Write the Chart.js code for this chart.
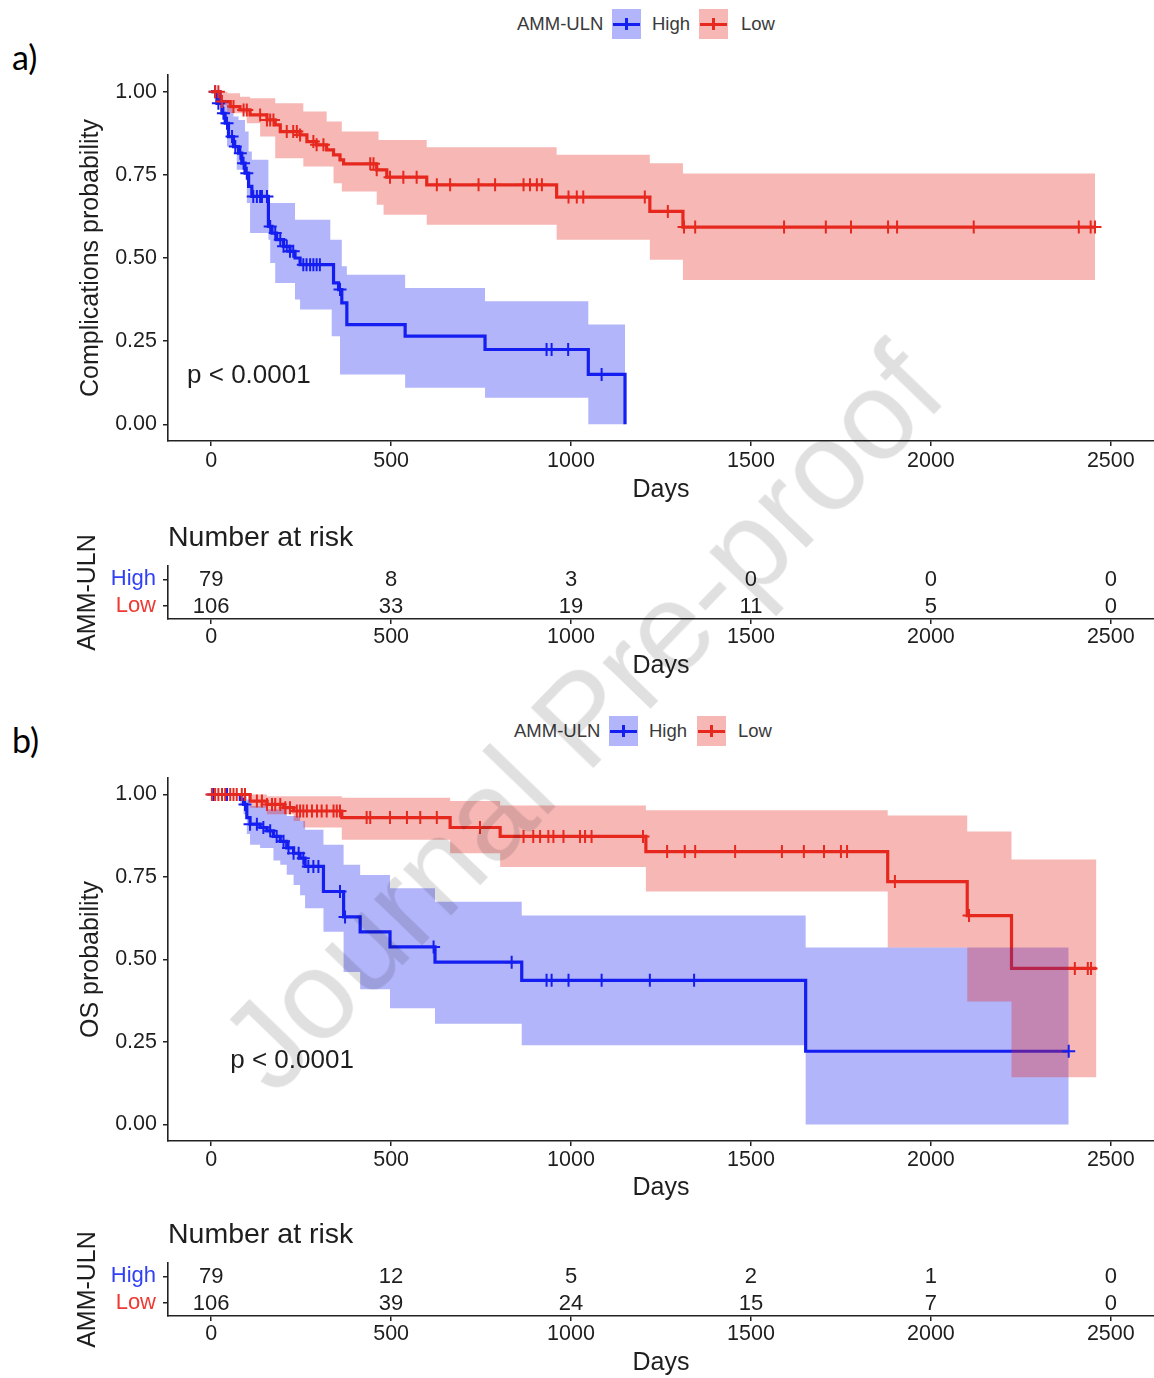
<!DOCTYPE html>
<html>
<head>
<meta charset="utf-8">
<script src="https://cdn.jsdelivr.net/npm/chart.js@4.4.1/dist/chart.umd.min.js"></script>
<style>
html,body{margin:0;padding:0;background:#fff;}
body{width:1154px;height:1378px;position:relative;overflow:hidden;}
canvas{position:absolute;left:0;}
.lbl{position:absolute;left:12px;font-family:Lato,"Open Sans",sans-serif;font-size:34px;line-height:40px;color:#000;}
.leg{position:absolute;left:0;width:1154px;height:30px;font-family:"Liberation Sans",Arial,sans-serif;font-size:18.5px;color:#3a3a3a;}
.leg span{position:absolute;top:0;line-height:30px;white-space:nowrap;}
.key{position:absolute;top:0;width:29px;height:30px;}
.key i{position:absolute;display:block;}
#wm{position:absolute;left:582px;top:718px;transform:translate(-50%,-50%) rotate(-46deg);font-family:"Liberation Sans",Arial,sans-serif;font-size:126px;line-height:1;color:rgba(0,0,0,0.12);white-space:nowrap;pointer-events:none;}
</style>
</head>
<body>
<div class="lbl" style="top:37px">a)</div>
<div class="lbl" style="top:720px">b)</div>

<div class="leg" style="top:9px">
  <span style="left:517px">AMM-ULN</span>
  <div class="key" style="left:612px;background:rgba(20,30,240,0.33)"><i style="left:1px;right:1px;top:13.5px;height:3px;background:#141ef0"></i><i style="left:13px;width:3px;top:9px;height:12px;background:#141ef0"></i></div>
  <span style="left:652px">High</span>
  <div class="key" style="left:699px;background:rgba(230,40,30,0.33)"><i style="left:1px;right:1px;top:13.5px;height:3px;background:#e6281e"></i><i style="left:13px;width:3px;top:9px;height:12px;background:#e6281e"></i></div>
  <span style="left:741px">Low</span>
</div>
<div class="leg" style="top:716px">
  <span style="left:514px">AMM-ULN</span>
  <div class="key" style="left:609px;background:rgba(20,30,240,0.33)"><i style="left:1px;right:1px;top:13.5px;height:3px;background:#141ef0"></i><i style="left:13px;width:3px;top:9px;height:12px;background:#141ef0"></i></div>
  <span style="left:649px">High</span>
  <div class="key" style="left:697px;background:rgba(230,40,30,0.33)"><i style="left:1px;right:1px;top:13.5px;height:3px;background:#e6281e"></i><i style="left:13px;width:3px;top:9px;height:12px;background:#e6281e"></i></div>
  <span style="left:738px">Low</span>
</div>

<canvas id="kmA" width="1154" height="455" style="top:60px"></canvas>
<canvas id="riskA" width="1154" height="175" style="top:515px"></canvas>
<canvas id="kmB" width="1154" height="455" style="top:760px"></canvas>
<canvas id="riskB" width="1154" height="166" style="top:1212px"></canvas>

<div id="wm">Journal Pre-proof</div>

<script>
// ---------------- DATA ----------------
const groups = ['High', 'Low'];
const xTicks = [0, 500, 1000, 1500, 2000, 2500];
const yTicks = [0, 0.25, 0.5, 0.75, 1];
const riskTimes = [0, 500, 1000, 1500, 2000, 2500];

// Panel a: complications
const aHighT = [0,16,30,39,48,62,76,85,94,104,113,159,169,182,201,219,233,247,340,354,363,377,539,761,1048,1150];
const aHighS = [1,0.965,0.935,0.905,0.865,0.835,0.815,0.785,0.755,0.715,0.685,0.595,0.575,0.555,0.535,0.52,0.50,0.48,0.425,0.405,0.365,0.30,0.265,0.225,0.15,0.0];
const aHighUpT = [0,16,30,48,62,76,94,104,113,159,233,331,363,377,539,761,1048,1150];
const aHighUpS = [1,0.995,0.975,0.95,0.925,0.915,0.88,0.82,0.795,0.665,0.615,0.555,0.475,0.45,0.41,0.37,0.30,0.30];
const aHighLoT = [0,16,25,44,71,99,108,159,164,178,233,247,335,358,539,761,1048,1150];
const aHighLoS = [1,0.96,0.935,0.835,0.765,0.665,0.575,0.555,0.485,0.425,0.375,0.345,0.265,0.15,0.11,0.08,0.0,0.0];
const aHighCens = [11,20,34,44,58,67,81,90,99,117,127,136,141,155,164,178,192,201,210,219,228,256,265,275,284,293,302,358,932,946,992,1085];

const aLowT = [0,25,53,80,108,155,178,192,247,266,293,321,340,358,368,460,488,599,960,1219,1311,2456];
const aLowS = [1,0.97,0.955,0.945,0.93,0.915,0.90,0.88,0.87,0.85,0.84,0.825,0.81,0.795,0.783,0.765,0.743,0.72,0.683,0.64,0.593,0.593];
const aLowUpT = [0,45,80,108,178,256,321,363,465,599,960,1219,1311,2456];
const aLowUpS = [1,0.995,0.985,0.98,0.965,0.94,0.91,0.88,0.855,0.833,0.81,0.785,0.754,0.754];
const aLowLoT = [0,16,44,99,136,178,256,340,363,460,479,599,960,1219,1311,2456];
const aLowLoS = [1,0.96,0.935,0.905,0.865,0.80,0.775,0.725,0.70,0.66,0.63,0.60,0.555,0.495,0.434,0.434];
const aLowCens = [11,20,30,62,90,99,136,155,164,173,210,228,238,247,284,293,312,442,451,460,497,534,571,627,664,743,789,868,886,905,919,993,1016,1034,1205,1269,1314,1345,1592,1708,1778,1881,1906,2119,2411,2444,2456];

const aRiskHigh = [79, 8, 3, 0, 0, 0];
const aRiskLow = [106, 33, 19, 11, 5, 0];

// Panel b: overall survival
const bHighT = [0,81,90,99,108,136,155,173,192,210,229,247,261,312,368,414,497,622,863,1652,2383];
const bHighS = [1,0.985,0.97,0.93,0.91,0.90,0.89,0.873,0.858,0.838,0.822,0.807,0.782,0.706,0.629,0.584,0.538,0.492,0.437,0.222,0.222];
const bHighUpT = [0,90,99,108,155,210,247,261,312,368,414,497,622,863,1652,2383];
const bHighUpS = [1,0.995,0.985,0.965,0.955,0.935,0.92,0.893,0.848,0.787,0.756,0.716,0.675,0.633,0.536,0.536];
const bHighLoT = [0,81,90,99,108,136,173,192,210,229,247,261,312,368,414,497,622,863,1652,2383];
const bHighLoS = [1,0.97,0.94,0.88,0.848,0.838,0.80,0.787,0.757,0.726,0.695,0.655,0.584,0.462,0.41,0.352,0.305,0.24,0.0,0.0];
const bHighCens = [6,30,44,94,108,127,145,164,182,201,215,229,243,256,270,284,298,358,372,618,835,932,946,993,1085,1219,1342,2383];

const bLowT = [0,108,155,201,229,363,664,803,1208,1880,2101,2224,2460];
const bLowS = [1,0.98,0.97,0.96,0.95,0.93,0.90,0.873,0.827,0.736,0.633,0.473,0.473];
const bLowUpT = [0,155,363,664,803,1208,1880,2101,2224,2460];
const bLowUpS = [1,0.995,0.99,0.98,0.967,0.952,0.936,0.888,0.803,0.803];
const bLowLoT = [0,108,155,229,256,363,664,803,1208,1880,2101,2224,2460];
const bLowLoS = [1,0.96,0.94,0.92,0.90,0.863,0.822,0.78,0.706,0.536,0.373,0.143,0.143];
const bLowCens = [2,11,20,30,39,53,62,71,85,94,127,141,155,169,178,192,206,219,238,247,256,266,280,294,307,321,340,349,358,432,442,497,544,581,627,747,868,895,914,937,951,979,1025,1039,1057,1200,1267,1316,1345,1456,1586,1647,1703,1750,1767,1900,2106,2400,2436,2445];

const bRiskHigh = [79, 12, 5, 2, 1, 0];
const bRiskLow = [106, 39, 24, 15, 7, 0];

const pText = 'p < 0.0001';

// ---------------- STYLE ----------------
const FONT = '"Liberation Sans", Arial, Helvetica, sans-serif';
const BLUE = '#141ef0', RED = '#e6281e';
const BLUE_BAND = 'rgba(20,30,240,0.33)', RED_BAND = 'rgba(230,40,30,0.33)';
const BLUE_TXT = '#3040f6', RED_TXT = '#ee3a32';
const TXT = '#1e1e1e';
const AX = '#222';
const X_MIN = -120, X_MAX = 2620;
Chart.defaults.font.family = FONT;

function pts(T, S) { return T.map((t, i) => ({x: t, y: S[i]})); }
function stepValue(T, S, t) { let v = S[0]; for (let i = 0; i < T.length; i++) { if (T[i] <= t) v = S[i]; else break; } return v; }
function censPts(C, T, S) { return C.map(t => ({x: t, y: stepValue(T, S, t)})); }
function zeroPad(s) { s.paddingTop = 0; s.paddingBottom = 0; s.paddingLeft = 0; s.paddingRight = 0; }

function xAxis(height, tickPad, titlePad) {
  return {
    type: 'linear', min: X_MIN, max: X_MAX,
    afterBuildTicks: s => { s.ticks = xTicks.map(v => ({value: v})); },
    afterFit: s => { s.height = height; zeroPad(s); },
    ticks: {font: {size: 21.5}, color: TXT, padding: tickPad, maxRotation: 0, autoSkip: false, callback: v => String(v)},
    grid: {display: true, drawOnChartArea: false, drawTicks: true, tickLength: 5, color: AX, lineWidth: 1.5},
    border: {display: true, color: AX, width: 1.6},
    title: {display: true, text: 'Days', font: {size: 25}, color: TXT, padding: {top: 0, bottom: titlePad}}
  };
}

const annotPlugin = {
  id: 'annot',
  afterDatasetsDraw(chart, args, opts) {
    if (!opts || !opts.text) return;
    const {ctx, scales: {x, y}} = chart;
    ctx.save();
    ctx.font = '26px ' + FONT;
    ctx.fillStyle = TXT;
    ctx.textAlign = 'left';
    ctx.textBaseline = 'middle';
    ctx.fillText(opts.text, x.getPixelForValue(opts.x), y.getPixelForValue(opts.y));
    ctx.restore();
  }
};

function kmChart(id, o) {
  const band = (T, S, color, fill, order) => ({data: pts(T, S), stepped: 'before', borderWidth: 0, pointRadius: 0, backgroundColor: color, fill: fill, order: order});
  return new Chart(document.getElementById(id), {
    type: 'line',
    data: {datasets: [
      {label: 'High', data: pts(o.hT, o.hS), stepped: 'before', borderColor: BLUE, borderWidth: 3.2, pointRadius: 0, fill: false, order: 20},
      {label: 'Low', data: pts(o.lT, o.lS), stepped: 'before', borderColor: RED, borderWidth: 3.2, pointRadius: 0, fill: false, order: 19},
      band(o.hUT, o.hUS, BLUE_BAND, '+1', 10),
      band(o.hLT, o.hLS, 'transparent', false, 10),
      band(o.lUT, o.lUS, RED_BAND, '+1', 9),
      band(o.lLT, o.lLS, 'transparent', false, 9),
      {label: 'High censored', data: censPts(o.hC, o.hT, o.hS), showLine: false, pointStyle: 'cross', pointRadius: 6.5, pointBorderWidth: 2, pointBorderColor: BLUE, pointBackgroundColor: BLUE, order: 2},
      {label: 'Low censored', data: censPts(o.lC, o.lT, o.lS), showLine: false, pointStyle: 'cross', pointRadius: 6.5, pointBorderWidth: 2, pointBorderColor: RED, pointBackgroundColor: RED, order: 1}
    ]},
    options: {
      responsive: false, animation: false, devicePixelRatio: 1,
      layout: {padding: {top: o.padTop, left: 0, right: 0, bottom: 0}, autoPadding: false},
      plugins: {legend: {display: false}, tooltip: {enabled: false}, annot: {text: pText, x: o.pX, y: o.pY}},
      scales: {
        x: xAxis(74, o.xTickPad, o.xTitlePad),
        y: {
          type: 'linear', min: -0.05, max: 1.05,
          afterBuildTicks: s => { s.ticks = yTicks.map(v => ({value: v})); },
          afterFit: s => { s.width = 168; zeroPad(s); },
          ticks: {font: {size: 21.5}, color: TXT, padding: 6, autoSkip: false, callback: v => Number(v).toFixed(2)},
          grid: {display: true, drawOnChartArea: false, drawTicks: true, tickLength: 5, color: AX, lineWidth: 1.5},
          border: {display: true, color: AX, width: 1.6},
          title: {display: true, text: o.yTitle, font: {size: 25}, color: TXT, padding: {top: 76, bottom: 0}}
        }
      }
    },
    plugins: [annotPlugin]
  });
}

const riskPlugin = {
  id: 'riskText',
  afterDatasetsDraw(chart, args, opts) {
    const ctx = chart.ctx;
    ctx.save();
    ctx.fillStyle = TXT;
    ctx.font = '22px ' + FONT;
    ctx.textAlign = 'center';
    ctx.textBaseline = 'middle';
    chart.data.datasets.forEach((ds, di) => {
      const meta = chart.getDatasetMeta(di);
      meta.data.forEach((el, i) => { ctx.fillText(String(ds.counts[i]), el.x, el.y + 1); });
    });
    ctx.font = '28.5px ' + FONT;
    ctx.textAlign = 'left';
    ctx.fillText(opts.title, chart.chartArea.left, chart.chartArea.top - 28);
    ctx.restore();
  }
};

function riskChart(id, o) {
  return new Chart(document.getElementById(id), {
    type: 'line',
    data: {datasets: [
      {label: 'High', counts: o.high, data: riskTimes.map(t => ({x: t, y: groups[0]})), showLine: false, pointRadius: 0},
      {label: 'Low', counts: o.low, data: riskTimes.map(t => ({x: t, y: groups[1]})), showLine: false, pointRadius: 0}
    ]},
    options: {
      responsive: false, animation: false, devicePixelRatio: 1,
      layout: {padding: {top: 51, left: 0, right: 0, bottom: 0}, autoPadding: false},
      plugins: {legend: {display: false}, tooltip: {enabled: false}, riskText: {title: 'Number at risk'}},
      scales: {
        x: xAxis(o.xH, o.xTickPad, o.xTitlePad),
        y: {
          type: 'category', labels: groups, offset: true,
          afterFit: s => { s.width = 168; zeroPad(s); },
          ticks: {font: {size: 22, lineHeight: 1}, padding: 7, autoSkip: false, color: c => (c.index === 0 ? BLUE_TXT : RED_TXT)},
          grid: {display: true, drawOnChartArea: false, drawTicks: true, tickLength: 5, color: AX, lineWidth: 1.5, offset: false},
          border: {display: true, color: AX, width: 1.6},
          title: {display: true, text: 'AMM-ULN', font: {size: 25}, color: TXT, padding: {top: 73, bottom: 0}}
        }
      }
    },
    plugins: [riskPlugin]
  });
}

kmChart('kmA', {
  hT: aHighT, hS: aHighS, hUT: aHighUpT, hUS: aHighUpS, hLT: aHighLoT, hLS: aHighLoS, hC: aHighCens,
  lT: aLowT, lS: aLowS, lUT: aLowUpT, lUS: aLowUpS, lLT: aLowLoT, lLS: aLowLoS, lC: aLowCens,
  yTitle: 'Complications probability', padTop: 15, xTickPad: 2, xTitlePad: 10, pX: -67, pY: 0.145
});
riskChart('riskA', {high: aRiskHigh, low: aRiskLow, xH: 71, xTickPad: 0, xTitlePad: 9});
kmChart('kmB', {
  hT: bHighT, hS: bHighS, hUT: bHighUpT, hUS: bHighUpS, hLT: bHighLoT, hLS: bHighLoS, hC: bHighCens,
  lT: bLowT, lS: bLowS, lUT: bLowUpT, lUS: bLowUpS, lLT: bLowLoT, lLS: bLowLoS, lC: bLowCens,
  yTitle: 'OS probability', padTop: 18, xTickPad: 1, xTitlePad: 12, pX: 53, pY: 0.193
});
riskChart('riskB', {high: bRiskHigh, low: bRiskLow, xH: 62, xTickPad: 0, xTitlePad: 0});
</script>
</body>
</html>
